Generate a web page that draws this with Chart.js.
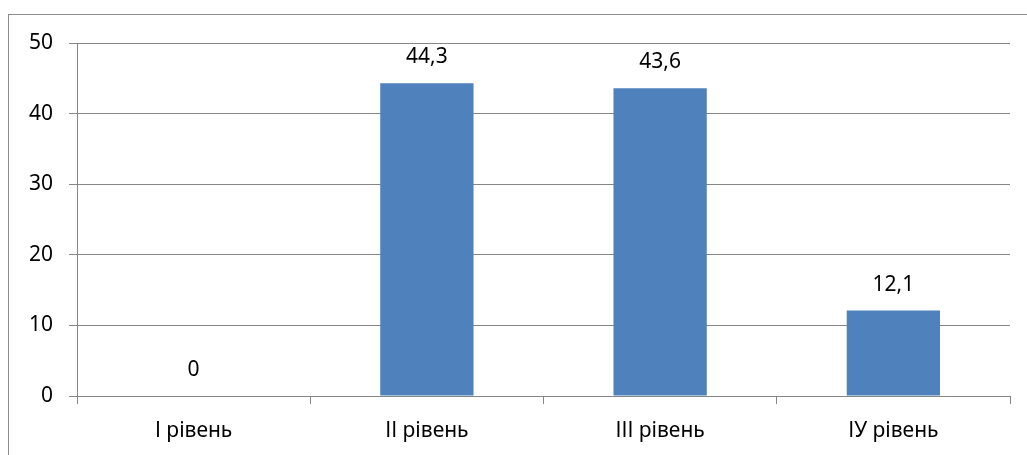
<!DOCTYPE html>
<html>
<head>
<meta charset="utf-8">
<script src="https://cdn.jsdelivr.net/npm/chart.js@4"></script>
<style>
    html, body { margin: 0; padding: 0; background: #fff; overflow: hidden; }
    #wrap { position: relative; width: 1027px; height: 455px; }
    #frame { position: absolute; left: 8px; top: 14px; width: 1100px; height: 500px; border: 1px solid #8c8c8c; }
    canvas { position: absolute; left: 0; top: 0; }
</style>
</head>
<body>
<div id="wrap">
    <div id="frame"></div>
    <canvas id="chart" width="1027" height="455"></canvas>
</div>
<script>
const categories = ["І рівень", "ІІ рівень", "ІІІ рівень", "ІУ рівень"];
const values = [0, 44.3, 43.6, 12.1];
const yTicks = [0, 10, 20, 30, 40, 50];

const FONT = "'Noto Sans', sans-serif";
const GRID = '#868686';

// labels above each bar, with a comma as decimal separator
const valueLabels = {
    id: 'valueLabels',
    afterDatasetsDraw(chart) {
        const ctx = chart.ctx;
        const meta = chart.getDatasetMeta(0);
        ctx.save();
        ctx.font = '21px ' + FONT;
        ctx.fillStyle = '#000';
        ctx.textAlign = 'center';
        ctx.textBaseline = 'alphabetic';
        meta.data.forEach((bar, i) => {
            ctx.fillText(String(values[i]).replace('.', ','), bar.x, bar.y - 20);
        });
        ctx.restore();
    }
};

new Chart(document.getElementById('chart'), {
    type: 'bar',
    data: {
        labels: categories,
        datasets: [{
            data: values,
            backgroundColor: '#4f81bd',
            borderWidth: 0,
            barPercentage: 0.4,
            categoryPercentage: 1
        }]
    },
    options: {
        responsive: false,
        animation: false,
        layout: { padding: { top: 43, right: 17, left: 0, bottom: 0 } },
        plugins: { legend: { display: false }, tooltip: { enabled: false } },
        scales: {
            x: {
                grid: { offset: true, drawOnChartArea: false, color: GRID, tickLength: 8 },
                border: { color: GRID },
                ticks: { color: '#000', font: { family: FONT, size: 21 }, padding: 14 },
                afterFit(scale) { scale.height = 59; }
            },
            y: {
                min: 0,
                max: 50,
                afterBuildTicks(scale) { scale.ticks = yTicks.map(v => ({ value: v })); },
                grid: { color: GRID, tickLength: 8 },
                border: { color: GRID },
                ticks: { color: '#000', font: { family: FONT, size: 21 }, padding: 16 },
                afterFit(scale) { scale.width = 77; }
            }
        }
    },
    plugins: [valueLabels]
});
</script>
</body>
</html>
